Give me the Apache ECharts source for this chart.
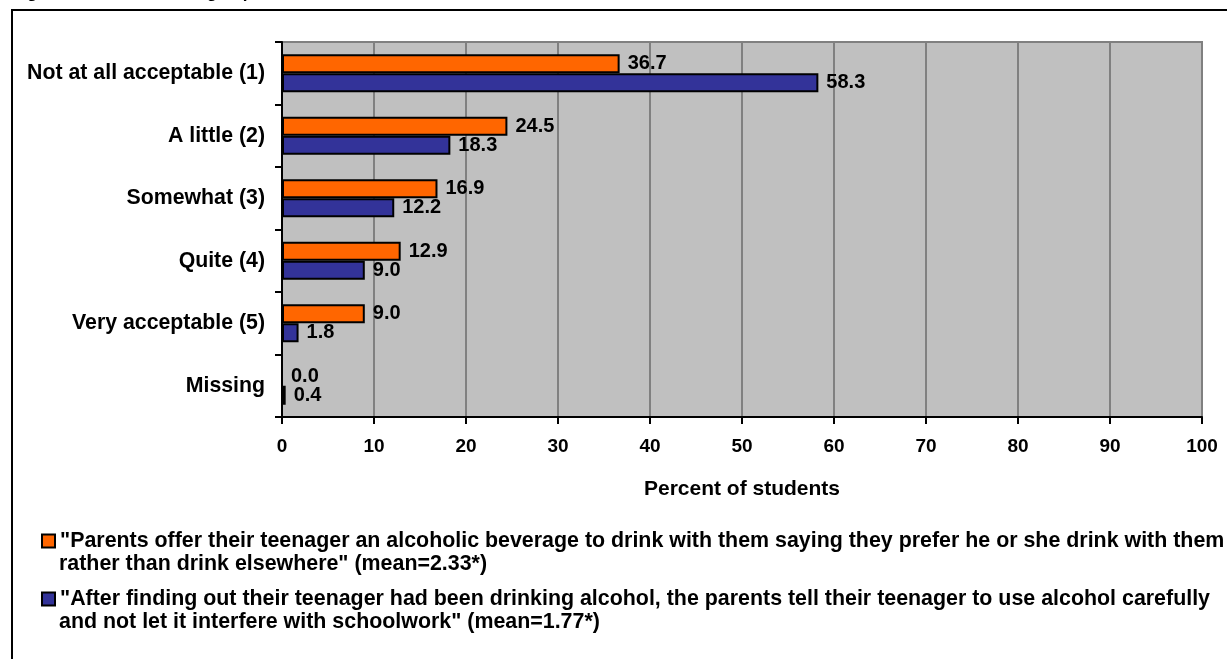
<!DOCTYPE html>
<html>
<head>
<meta charset="utf-8">
<script src="https://cdn.jsdelivr.net/npm/echarts@6/dist/echarts.min.js"></script>
<style>
html,body{margin:0;padding:0;background:#fff;}
#chart{width:1227px;height:659px;}
</style>
</head>
<body>
<div id="chart"></div>
<script>
var titleText = "Figure 6: Student's rating of parents' actions";
var categories = ["Not at all acceptable (1)", "A little (2)", "Somewhat (3)", "Quite (4)", "Very acceptable (5)", "Missing"];
var seriesNames = [
  '"Parents offer their teenager an alcoholic beverage to drink with them saying they prefer he or she drink with them rather than drink elsewhere" (mean=2.33*)',
  '"After finding out their teenager had been drinking alcohol, the parents tell their teenager to use alcohol carefully and not let it interfere with schoolwork" (mean=1.77*)'
];
var legendLines = [
  ['"Parents offer their teenager an alcoholic beverage to drink with them saying they prefer he or she drink with them', 'rather than drink elsewhere" (mean=2.33*)'],
  ['"After finding out their teenager had been drinking alcohol, the parents tell their teenager to use alcohol carefully', 'and not let it interfere with schoolwork" (mean=1.77*)']
];
var offerValues = [36.7, 24.5, 16.9, 12.9, 9.0, 0.0];
var carefulValues = [58.3, 18.3, 12.2, 9.0, 1.8, 0.4];
var xTicks = [0, 10, 20, 30, 40, 50, 60, 70, 80, 90, 100];
var axisName = "Percent of students";

var FONT = "'Liberation Sans', Arial, sans-serif";
var LEG_FS = 21.4;
var chart = echarts.init(document.getElementById('chart'), null, {renderer: 'canvas'});

var legendTops = [529.5, 587.5];

function legendFor(i) {
  return {
    data: [{name: seriesNames[i], icon: 'rect'}],
    orient: 'vertical',
    left: 41,
    top: legendTops[i],
    padding: 0,
    itemWidth: 13,
    itemHeight: 13,
    selectedMode: false,
    formatter: function () { return legendLines[i][0]; },
    textStyle: {
      fontFamily: FONT, fontWeight: 'bold', fontSize: LEG_FS, color: '#000', lineHeight: 23
    }
  };
}

function secondLine(i) {
  return {
    type: 'text', silent: true, x: 59, y: legendTops[i] + 23 + 11.5,
    style: {text: legendLines[i][1], font: 'bold ' + LEG_FS + 'px ' + FONT, fill: '#000', verticalAlign: 'middle', align: 'left'}
  };
}

var option = {
  animation: false,
  backgroundColor: '#fff',
  graphic: [
    {
      type: 'rect', silent: true,
      shape: {x: 12, y: 10, width: 1400, height: 800},
      style: {fill: 'none', stroke: '#000', lineWidth: 2}
    },
    {
      type: 'text', left: 12, top: -15, silent: true,
      style: {text: titleText, font: 'bold 17px ' + FONT, fill: '#000'}
    },
    secondLine(0),
    secondLine(1)
  ],
  legend: [legendFor(0), legendFor(1)],
  grid: {
    left: 282, right: 25, top: 42, bottom: 242,
    show: true, backgroundColor: '#C0C0C0', borderColor: '#808080', borderWidth: 2,
    containLabel: false
  },
  xAxis: {
    type: 'value', min: 0, max: 100, interval: 10,
    name: axisName, nameLocation: 'middle', nameGap: 62,
    nameTextStyle: {fontFamily: FONT, fontWeight: 'bold', fontSize: 21, color: '#000'},
    axisLine: {show: true, lineStyle: {color: '#000', width: 2}},
    axisTick: {show: true, length: 7, lineStyle: {color: '#000', width: 2}},
    axisLabel: {
      margin: 20, color: '#000', fontFamily: FONT, fontWeight: 'bold', fontSize: 19,
      formatter: function (v) { return xTicks.indexOf(v) >= 0 ? String(v) : ''; }
    },
    splitLine: {show: true, lineStyle: {color: '#808080', width: 2}}
  },
  yAxis: {
    type: 'category', data: categories, inverse: true,
    axisLine: {show: true, lineStyle: {color: '#000', width: 2}},
    axisTick: {show: true, length: 7, lineStyle: {color: '#000', width: 2}},
    axisLabel: {margin: 17, color: '#000', fontFamily: FONT, fontWeight: 'bold', fontSize: 21.3},
    splitLine: {show: false}
  },
  series: [
    {
      name: seriesNames[0], type: 'bar', data: offerValues, barWidth: 19, barGap: '0%',
      itemStyle: {color: '#FF6600', borderColor: '#000', borderWidth: 2},
      label: {show: true, position: 'right', distance: 8, color: '#000', fontFamily: FONT, fontWeight: 'bold', fontSize: 20,
        formatter: function (p) { return p.value.toFixed(1); }}
    },
    {
      name: seriesNames[1], type: 'bar', data: carefulValues, barWidth: 19, barGap: '0%',
      itemStyle: {color: '#333399', borderColor: '#000', borderWidth: 2},
      label: {show: true, position: 'right', distance: 8, color: '#000', fontFamily: FONT, fontWeight: 'bold', fontSize: 20,
        formatter: function (p) { return p.value.toFixed(1); }}
    }
  ]
};
chart.setOption(option);
</script>
</body>
</html>
